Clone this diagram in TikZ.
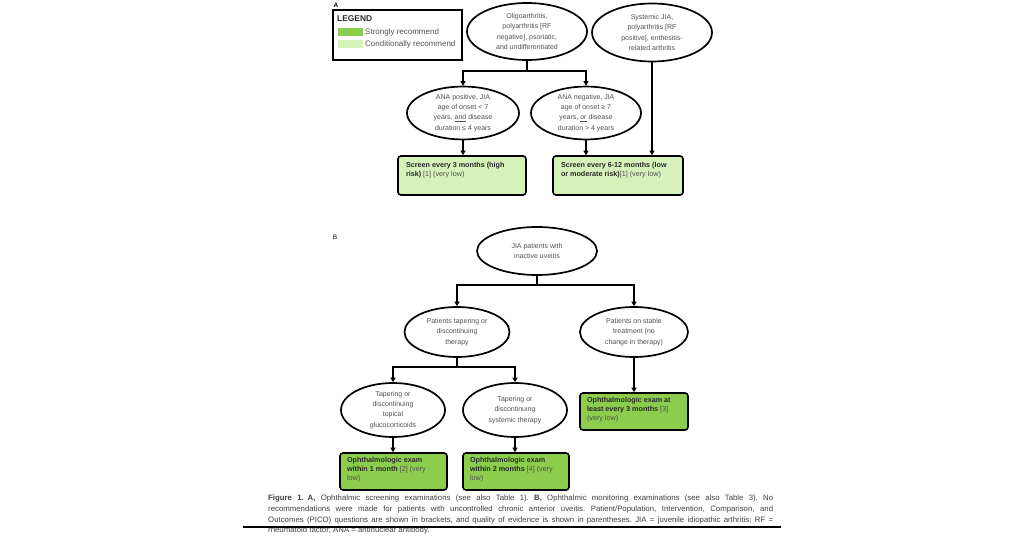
\documentclass[tikz,border=0pt]{standalone}
\usepackage{fontspec}
\setmainfont{Liberation Sans}
\usetikzlibrary{shapes.geometric,arrows.meta}
\definecolor{strongg}{RGB}{141,205,78}
\definecolor{condg}{RGB}{214,241,186}
\definecolor{txtgray}{RGB}{80,80,80}
\definecolor{txtdark}{RGB}{40,40,40}
\newcommand{\bx}[1]{{\color{txtdark}\bfseries #1}}
\frenchspacing
\begin{document}
\begin{tikzpicture}[x=1pt,y=-1pt,
  ell/.style={ellipse, draw, line width=1.7pt, inner sep=0pt, align=center,
    font=\fontsize{7}{10.3}\selectfont, text=txtgray},
  conn/.style={line width=1.6pt},
  arr/.style={line width=1.6pt, -{Triangle[length=4.5pt,width=5pt]}},
  rbox/.style={draw, line width=1.6pt, rounded corners=3pt, inner sep=0pt,
    font=\fontsize{7.2}{9}\selectfont, text=txtgray},
  lbl/.style={inner sep=0pt, anchor=west, font=\fontsize{8}{9}\selectfont, text=txtgray},
]
\useasboundingbox (0,0) rectangle (1026,540);

% ---------- Panel A ----------
\node[inner sep=0pt, font=\fontsize{6.5}{7}\selectfont\bfseries] (labA) at (336,5) {A};

\node[draw, line width=1.2pt, minimum width=129pt, minimum height=50pt, inner sep=0pt] (legend) at (397.5,35) {};
\node[inner sep=0pt, anchor=west, font=\fontsize{8.4}{9}\selectfont\bfseries, text=txtdark] (legt) at (337,19) {LEGEND};
\node[fill=strongg, minimum width=25pt, minimum height=8pt, inner sep=0pt] (sw1) at (350.5,32) {};
\node[fill=condg, minimum width=25pt, minimum height=8pt, inner sep=0pt] (sw2) at (350.5,44) {};
\node[lbl] (sl1) at (365,32) {Strongly recommend};
\node[lbl] (sl2) at (365,44) {Conditionally recommend};

\node[ell, minimum width=120pt, minimum height=57pt] (e1) at (527,31.5)
  {Oligoarthritis,\\polyarthritis [RF\\negative], psoriatic,\\and undifferentiated};
\node[ell, minimum width=120pt, minimum height=58pt] (e2) at (652,32.5)
  {Systemic JIA,\\polyarthritis [RF\\positive], enthesitis-\\related arthritis};

\node[ell, minimum width=112pt, minimum height=52pt] (a1) at (463,113)
  {ANA positive, JIA\\age of onset < 7\\years, \underline{and} disease\\duration ≤ 4 years};
\node[ell, minimum width=110pt, minimum height=52pt] (a2) at (586,113)
  {ANA negative, JIA\\age of onset ≥ 7\\years, \underline{or} disease\\duration > 4 years};

\node[rbox, fill=condg, minimum width=128pt, minimum height=39pt] (b1) at (462,175.5)
  {\parbox[c][27pt][t]{112pt}{\raggedright\bx{Screen every 3 months (high}\\\bx{risk)} [1] (very low)}};
\node[rbox, fill=condg, minimum width=130pt, minimum height=39pt] (b2) at (618,175.5)
  {\parbox[c][27pt][t]{114pt}{\raggedright\bx{Screen every 6-12 months (low}\\\bx{or moderate risk)}[1] (very low)}};

\coordinate (jA) at (527,71);
\draw[conn] (e1.south) -- (jA);
\draw[arr] (jA) -| (a1.north);
\draw[arr] (jA) -| (a2.north);
\draw[arr] (a1.south) -- (b1.north -| a1.south);
\draw[arr] (a2.south) -- (b2.north -| a2.south);
\draw[arr] (e2.south) -- (b2.north -| e2.south);

% ---------- Panel B ----------
\node[inner sep=0pt, font=\fontsize{6.5}{7}\selectfont] (labB) at (335,237) {B};

\node[ell, minimum width=120pt, minimum height=48pt] (t0) at (537,251)
  {JIA patients with\\inactive uveitis};
\node[ell, minimum width=105pt, minimum height=50pt] (l1) at (457,332)
  {Patients tapering or\\discontinuing\\therapy};
\node[ell, minimum width=108pt, minimum height=50pt] (r1) at (634,332)
  {Patients on stable\\treatment (no\\change in therapy)};
\node[ell, minimum width=104pt, minimum height=54pt] (t1) at (393,410)
  {Tapering or\\discontinuing\\topical\\glucocorticoids};
\node[ell, minimum width=104pt, minimum height=54pt] (t2) at (515,410)
  {Tapering or\\discontinuing\\systemic therapy};

\node[rbox, fill=strongg, minimum width=107pt, minimum height=37pt] (c1) at (393.5,471.5)
  {\parbox[c][28pt][t]{93pt}{\raggedright\bx{Ophthalmologic exam}\\\bx{within 1 month} [2] (very\\low)}};
\node[rbox, fill=strongg, minimum width=106pt, minimum height=37pt] (c2) at (516,471.5)
  {\parbox[c][28pt][t]{92pt}{\raggedright\bx{Ophthalmologic exam}\\\bx{within 2 months} [4] (very\\low)}};
\node[rbox, fill=strongg, minimum width=108pt, minimum height=37pt] (c3) at (634,411.5)
  {\parbox[c][28pt][t]{94pt}{\raggedright\bx{Ophthalmologic exam at}\\\bx{least every 3 months} [3]\\(very low)}};

\coordinate (jB) at (537,285);
\draw[conn] (t0.south) -- (jB);
\draw[arr] (jB) -| (l1.north);
\draw[arr] (jB) -| (r1.north);
\coordinate (jC) at (457,367);
\draw[conn] (l1.south) -- (jC);
\draw[arr] (jC) -| (t1.north);
\draw[arr] (jC) -| (t2.north);
\draw[arr] (t1.south) -- (c1.north -| t1.south);
\draw[arr] (t2.south) -- (c2.north -| t2.south);
\draw[arr] (r1.south) -- (c3.north);

% ---------- Caption ----------
\node[anchor=north west, inner sep=0pt, text=black!75] (cap) at (268,495)
  {\parbox{505pt}{\fontsize{7.8}{10.7}\selectfont
  \textbf{Figure 1.}\enspace\textbf{A,} Ophthalmic screening examinations (see also Table 1). \textbf{B,} Ophthalmic monitoring examinations (see also Table 3). No\linebreak
  recommendations were made for patients with uncontrolled chronic anterior uveitis. Patient/Population, Intervention, Comparison, and\linebreak
  Outcomes (PICO) questions are shown in brackets, and quality of evidence is shown in parentheses. JIA = juvenile idiopathic arthritis; RF =\linebreak
  rheumatoid factor; ANA = antinuclear antibody.}};
\coordinate (ru1) at (243,527);
\coordinate (ru2) at (781,527);
\draw[line width=1.2pt] (ru1) -- (ru2);
\end{tikzpicture}
\end{document}
